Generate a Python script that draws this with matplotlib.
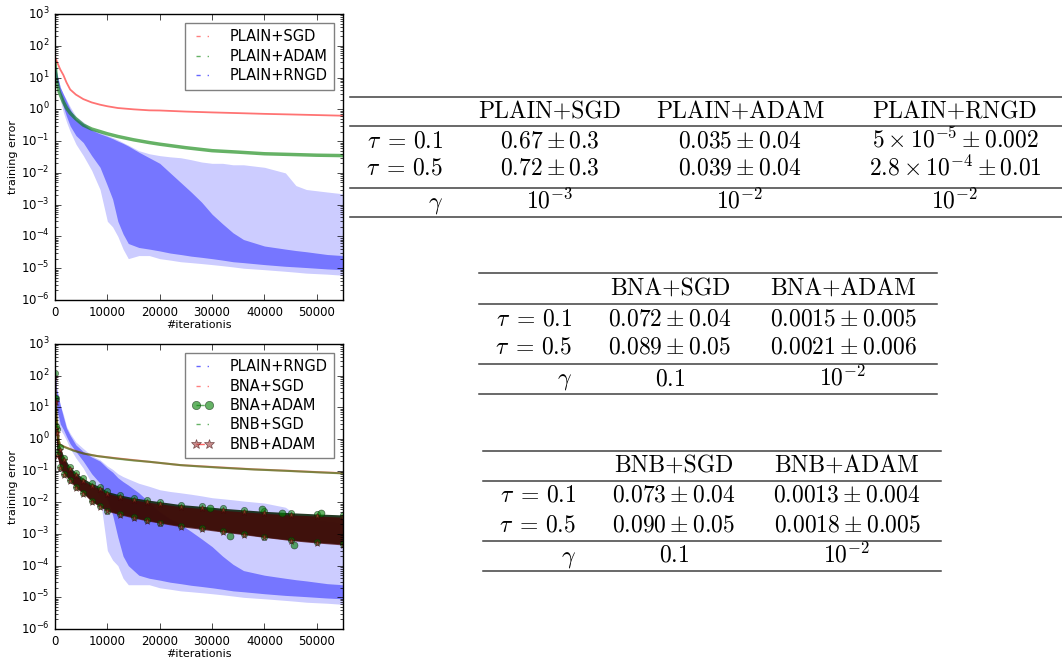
import matplotlib
matplotlib.use("Agg")
import matplotlib.pyplot as plt
from matplotlib.lines import Line2D

plt.style.use("classic")
plt.rcParams["figure.facecolor"] = "white"
plt.rcParams["savefig.facecolor"] = "white"
plt.rcParams["font.size"] = 8.5

W, H = 1062, 659

# ---------------- data ----------------
# top panel, PLAIN+SGD / PLAIN+ADAM
x_sgd = [0, 500, 1000, 1600, 2200, 2900, 4000, 5400, 7000, 8600, 10000, 12000,
         15000, 18000, 20000, 25000, 30000, 35000, 40000, 45000, 50000, 55000]
plain_sgd = [45, 28, 18, 12, 7, 4.2, 2.9, 2.1, 1.65, 1.4, 1.25, 1.1,
             1.0, 0.93, 0.92, 0.85, 0.8, 0.76, 0.72, 0.69, 0.66, 0.63]
x_adam = [0, 300, 800, 1600, 2200, 2900, 4000, 5400, 7000, 8600, 10000, 12000,
          15000, 18000, 20000, 25000, 30000, 35000, 40000, 45000, 50000, 55000]
plain_adam = [30, 8, 3.5, 1.7, 1.1, 0.76, 0.5, 0.32, 0.24, 0.2, 0.17, 0.14,
              0.11, 0.09, 0.08, 0.062, 0.05, 0.045, 0.04, 0.038, 0.036, 0.035]

# PLAIN+RNGD: noisy, kept as envelopes (sparse spikes / dense core)
x_rngd = [0, 300, 1000, 1600, 2200, 2900, 4000, 5400, 7000, 8600, 10000, 11000,
          12000, 13000, 14000, 16000, 18000, 20000, 22000, 24000, 26000, 28000,
          30000, 32000, 34000, 36000, 40000, 44000, 46000, 48000, 52000, 55000]
rngd1_hi = [30, 15, 5, 3, 2, 1.2, 0.6, 0.4, 0.25, 0.19, 0.15, 0.13,
            0.11, 0.09, 0.075, 0.05, 0.04, 0.035, 0.032, 0.03, 0.026, 0.022,
            0.02, 0.02, 0.018, 0.018, 0.015, 0.01, 0.004, 0.003, 0.0025, 0.0022]
rngd1_core_hi = [30, 15, 5, 3, 1.8, 1.0, 0.5, 0.35, 0.22, 0.17, 0.14, 0.12,
                 0.1, 0.085, 0.07, 0.045, 0.03, 0.02, 0.01, 0.005, 0.0025, 1.2e-3,
                 5e-4, 2.5e-4, 1.3e-4, 8e-5, 5e-5, 4e-5, 3.6e-5, 3.3e-5, 2.7e-5, 2.5e-5]
rngd1_core_lo = [15, 8, 3, 1.2, 0.6, 0.3, 0.15, 0.09, 0.035, 0.015, 4e-3, 1.5e-3,
                 3e-4, 1.2e-4, 6e-5, 4.5e-5, 4e-5, 3.5e-5, 3e-5, 2.7e-5, 2.4e-5, 2.2e-5,
                 2e-5, 1.8e-5, 1.6e-5, 1.5e-5, 1.3e-5, 1.15e-5, 1.1e-5, 1.05e-5, 9.5e-6, 9e-6]
rngd1_lo = [10, 5, 2, 0.8, 0.4, 0.2, 0.08, 0.035, 0.012, 3e-3, 3e-4, 2e-4,
            1e-4, 4e-5, 2e-5, 2.5e-5, 2.5e-5, 2e-5, 1.8e-5, 1.6e-5, 1.5e-5, 1.4e-5,
            1.3e-5, 1.2e-5, 1.1e-5, 1e-5, 9e-6, 8e-6, 7.5e-6, 7e-6, 6.5e-6, 6e-6]

# bottom panel, PLAIN+RNGD
rngd2_hi = [300, 40, 12, 6, 2.5, 1.5, 0.8, 0.5, 0.3, 0.22, 0.14, 0.11,
            0.08, 0.065, 0.055, 0.04, 0.032, 0.025, 0.022, 0.02, 0.018, 0.016,
            0.014, 0.013, 0.012, 0.011, 0.0095, 0.007, 0.004, 0.003, 0.0025, 0.0022]
rngd2_core_hi = [300, 40, 12, 5, 2.2, 1.3, 0.65, 0.4, 0.27, 0.2, 0.12, 0.09,
                 0.06, 0.045, 0.035, 0.02, 0.01, 0.005, 0.003, 0.002, 0.0012, 7e-4,
                 4e-4, 2e-4, 1.1e-4, 7e-5, 5e-5, 4e-5, 3.6e-5, 3.3e-5, 2.7e-5, 2.5e-5]
rngd2_core_lo = [60, 10, 3, 2, 1.2, 0.7, 0.4, 0.2, 0.08, 0.04, 0.012, 4e-3,
                 8e-4, 2e-4, 1e-4, 5e-5, 4e-5, 3.5e-5, 3e-5, 2.7e-5, 2.4e-5, 2.2e-5,
                 2e-5, 1.8e-5, 1.6e-5, 1.5e-5, 1.3e-5, 1.15e-5, 1.1e-5, 1.05e-5, 9.5e-6, 9e-6]
rngd2_lo = [30, 6, 2, 1.4, 0.9, 0.5, 0.25, 0.12, 0.04, 0.015, 3e-4, 1.5e-4,
            1e-4, 4e-5, 2.5e-5, 2.5e-5, 2.5e-5, 2e-5, 1.8e-5, 1.6e-5, 1.5e-5, 1.4e-5,
            1.3e-5, 1.2e-5, 1.1e-5, 1e-5, 9e-6, 8e-6, 7.5e-6, 7e-6, 6.5e-6, 6e-6]

# bottom panel, BN + SGD
x_bn_sgd = [0, 300, 700, 1000, 2000, 3500, 5400, 8000, 11800, 15000, 18100,
            23900, 27000, 32000, 38000, 44000, 50000, 55000]
bna_sgd = [100, 5, 0.9, 0.65, 0.55, 0.44, 0.35, 0.29, 0.245, 0.215, 0.19,
           0.15, 0.14, 0.125, 0.11, 0.1, 0.09, 0.083]
bnb_sgd = [100, 5, 0.9, 0.64, 0.54, 0.43, 0.35, 0.29, 0.24, 0.21, 0.19,
           0.15, 0.138, 0.123, 0.109, 0.099, 0.089, 0.082]

# bottom panel, BN + ADAM: bands
x_bn_adam = [0, 150, 400, 950, 1800, 2860, 4000, 5400, 7000, 8600, 10000, 12500,
             15000, 17500, 20000, 24000, 28000, 32000, 36000, 40000, 45000, 50000, 55000]
bna_adam_hi = [120, 20, 2.0, 0.55, 0.25, 0.13, 0.085, 0.057, 0.04, 0.031, 0.022, 0.017,
               0.014, 0.012, 0.0105, 0.0085, 0.0075, 0.0065, 0.0058, 0.0052, 0.0047, 0.0043, 0.004]
bna_adam_lo = [20, 2.5, 0.35, 0.13, 0.08, 0.05, 0.03, 0.02, 0.011, 0.0075, 0.0055, 0.0042,
               0.0034, 0.0027, 0.0023, 0.0018, 0.0015, 0.0012, 0.001, 0.0008, 0.00065, 0.00055, 0.00048]
bnb_adam_hi = [90, 15, 1.6, 0.45, 0.21, 0.11, 0.072, 0.048, 0.034, 0.026, 0.019, 0.015,
               0.012, 0.0102, 0.009, 0.0073, 0.0064, 0.0056, 0.005, 0.0045, 0.004, 0.0037, 0.0034]
bnb_adam_lo = [15, 2.0, 0.3, 0.12, 0.075, 0.047, 0.028, 0.019, 0.0105, 0.0072, 0.0052, 0.004,
               0.0032, 0.0026, 0.0022, 0.0017, 0.0014, 0.00115, 0.00095, 0.00078, 0.00062, 0.00052, 0.00045]
bna_out_x = [29600, 33400, 39500, 43300, 45600, 50800]
bna_out_y = [6.6e-3, 8.5e-4, 6.3e-3, 4.7e-3, 4.5e-4, 4.6e-3]

# tables
t1_cols = ["PLAIN+SGD", "PLAIN+ADAM", "PLAIN+RNGD"]
t1_rows = [[r"$0.67 \pm 0.3$", r"$0.035 \pm 0.04$", r"$5 \times 10^{-5} \pm 0.002$"],
           [r"$0.72 \pm 0.3$", r"$0.039 \pm 0.04$", r"$2.8 \times 10^{-4} \pm 0.01$"],
           [r"$10^{-3}$", r"$10^{-2}$", r"$10^{-2}$"]]
t2_cols = ["BNA+SGD", "BNA+ADAM"]
t2_rows = [[r"$0.072 \pm 0.04$", r"$0.0015 \pm 0.005$"],
           [r"$0.089 \pm 0.05$", r"$0.0021 \pm 0.006$"],
           [r"$0.1$", r"$10^{-2}$"]]
t3_cols = ["BNB+SGD", "BNB+ADAM"]
t3_rows = [[r"$0.073 \pm 0.04$", r"$0.0013 \pm 0.004$"],
           [r"$0.090 \pm 0.05$", r"$0.0018 \pm 0.005$"],
           [r"$0.1$", r"$10^{-2}$"]]
row_names = [r"$\tau\;=\,0.1$", r"$\tau\;=\,0.5$", r"$\gamma$"]

fig = plt.figure(figsize=(W / 100, H / 100), dpi=100)


def setup(ax):
    ax.set_yscale("log")
    ax.set_xlim(0, 55000)
    ax.set_ylim(1e-6, 1e3)
    ax.set_xticks([0, 10000, 20000, 30000, 40000, 50000])
    ax.tick_params(labelsize=8.5)
    ax.set_xlabel("#iterationis", fontsize=8, labelpad=1)
    ax.set_ylabel("training error", fontsize=8, labelpad=2)


def legend(ax, handles):
    lg = ax.legend(handles=handles, loc="upper right", fontsize=10.5, numpoints=2,
                   handlelength=1.5, handletextpad=1.1, labelspacing=0.3,
                   borderpad=0.45, borderaxespad=0.6, fancybox=False)
    lg.get_frame().set_edgecolor("0.5")
    lg.get_frame().set_linewidth(1.0)


# ---------------- top panel ----------------
ax1 = fig.add_axes([55 / W, 1 - 300 / H, 288 / W, 286 / H])
ax1.fill_between(x_rngd, rngd1_lo, rngd1_hi, color="b", alpha=0.2, lw=0)
ax1.fill_between(x_rngd, rngd1_core_lo, rngd1_core_hi, color="b", alpha=0.42, lw=0)
ax1.plot(x_adam, plain_adam, color="g", alpha=0.6, lw=2.5)
ax1.plot(x_sgd, plain_sgd, color="r", alpha=0.55, lw=1.3)
setup(ax1)
legend(ax1, [Line2D([], [], color="r", ls="-.", alpha=0.5, label="PLAIN+SGD"),
             Line2D([], [], color="g", ls="-.", alpha=0.6, label="PLAIN+ADAM"),
             Line2D([], [], color="b", ls="-.", alpha=0.6, label="PLAIN+RNGD")])

# ---------------- bottom panel ----------------
ax2 = fig.add_axes([55 / W, 1 - 629 / H, 288 / W, 285 / H])
ax2.fill_between(x_rngd, rngd2_lo, rngd2_hi, color="b", alpha=0.2, lw=0)
ax2.fill_between(x_rngd, rngd2_core_lo, rngd2_core_hi, color="b", alpha=0.42, lw=0)
ax2.plot(x_bn_sgd, bna_sgd, color="r", alpha=0.5, lw=1.5)
ax2.plot(x_bn_sgd, bnb_sgd, color="g", alpha=0.5, lw=1.5)
ax2.fill_between(x_bn_adam, bna_adam_lo, bna_adam_hi, color="#0c240c", alpha=0.9, lw=0)
ax2.fill_between(x_bn_adam, bnb_adam_lo, bnb_adam_hi, color="#4a0505", alpha=0.75, lw=0)
for yy in (bna_adam_hi, bna_adam_lo):
    ax2.plot(x_bn_adam, yy, "o", ms=4.5, mfc="g", mec="#0a200a", alpha=0.55)
ax2.plot(bna_out_x, bna_out_y, "o", ms=5, mfc="g", mec="#0a200a", alpha=0.6)
for yy in (bnb_adam_hi, bnb_adam_lo):
    ax2.plot(x_bn_adam, yy, "*", ms=4.5, mfc="#c03030", mec="#300000", alpha=0.6)
setup(ax2)
legend(ax2, [Line2D([], [], color="b", ls="-.", alpha=0.6, label="PLAIN+RNGD"),
             Line2D([], [], color="r", ls="-.", alpha=0.5, label="BNA+SGD"),
             Line2D([], [], color="g", ls="--", alpha=0.6, marker="o", ms=6,
                    mfc="g", mec="#0a200a", label="BNA+ADAM"),
             Line2D([], [], color="g", ls="-.", alpha=0.6, label="BNB+SGD"),
             Line2D([], [], color="r", ls="--", alpha=0.6, marker="*", ms=7,
                    mfc="#a04040", mec="#300000", label="BNB+ADAM")])


# ---------------- tables ----------------
def hline(x0, x1, y):
    fig.add_artist(Line2D([x0 / W, x1 / W], [1 - y / H, 1 - y / H],
                          transform=fig.transFigure, color="0.25", lw=1.1))


def table(cols, rows, x0, x1, lines, label_x, col_x, base):
    for y in lines:
        hline(x0, x1, y)
    for cx, name in zip(col_x, cols):
        fig.text(cx / W, 1 - base[0] / H, name, family="cmr10", fontsize=17,
                 ha="center", va="baseline")
    for r, (rn, vals) in enumerate(zip(row_names, rows)):
        yb = 1 - base[r + 1] / H
        fig.text(label_x / W, yb, rn, fontsize=17, ha="right", va="baseline")
        for cx, v in zip(col_x, vals):
            fig.text(cx / W, yb, v, fontsize=17, ha="center", va="baseline")


table(t1_cols, t1_rows, 350, 1062, [97, 126, 188, 217], 443, [550, 740, 955],
      [118, 147, 175, 208])
table(t2_cols, t2_rows, 479, 937, [273, 304, 364, 394], 572, [670, 843],
      [295, 325, 354, 385])
table(t3_cols, t3_rows, 483, 941, [451, 481, 541, 571], 576, [674, 847],
      [472, 502, 532, 562])

fig.savefig("out.png", dpi=100)
